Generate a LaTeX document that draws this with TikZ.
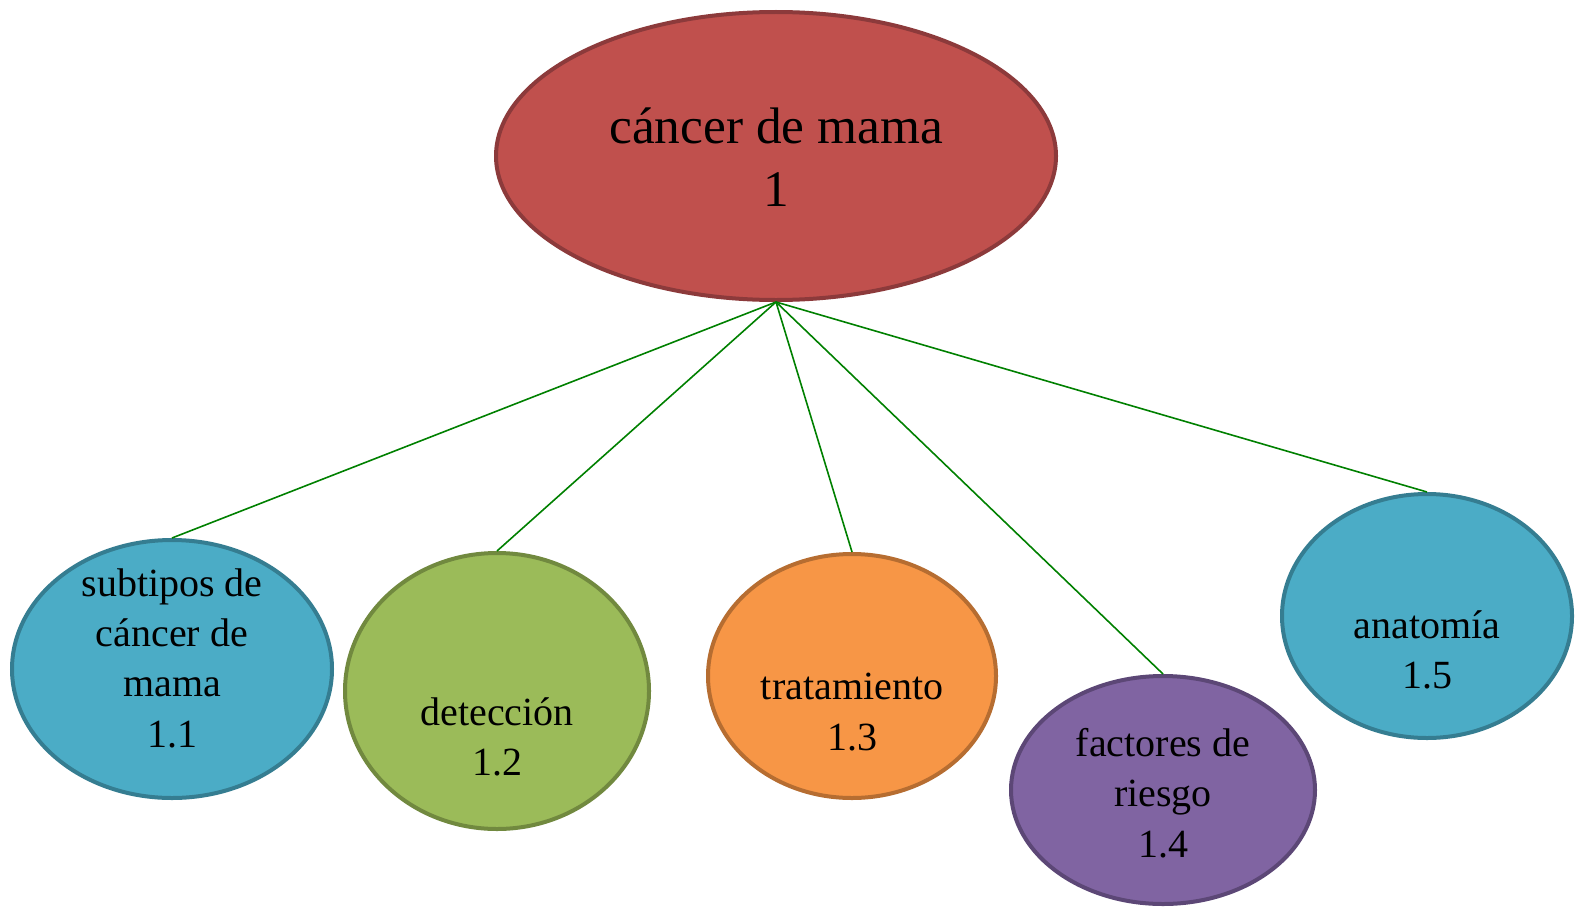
\documentclass[tikz,border=0pt]{standalone}
\usepackage{fontspec}
\setmainfont{Liberation Serif}
\usetikzlibrary{shapes.geometric}
\definecolor{redfill}{HTML}{C0504D}
\definecolor{redline}{HTML}{8C3A3B}
\definecolor{bluefill}{HTML}{4BACC6}
\definecolor{blueline}{HTML}{357D91}
\definecolor{greenfill}{HTML}{9BBB59}
\definecolor{greenline}{HTML}{71893F}
\definecolor{orangefill}{HTML}{F79646}
\definecolor{orangeline}{HTML}{B66D31}
\definecolor{purplefill}{HTML}{8064A2}
\definecolor{purpleline}{HTML}{5C4776}
\definecolor{conn}{HTML}{008000}
\tikzset{
  bubble/.style={ellipse, inner sep=0pt, line width=3pt},
  childtext/.style={align=center, font=\fontsize{30}{37.7}\selectfont, inner sep=0pt},
  link/.style={draw=conn, line width=1.2pt}
}
\begin{document}
\begin{tikzpicture}[x=0.75pt,y=-0.75pt]
\useasboundingbox (0,0) rectangle (1576,906);
% ellipses
\node[bubble, fill=redfill, draw=redline, minimum width=420pt, minimum height=216pt] (main) at (776,156) {};
\node[bubble, fill=bluefill, draw=blueline, minimum width=240pt, minimum height=193.5pt] (c1) at (172,669) {};
\node[bubble, fill=greenfill, draw=greenline, minimum width=228pt, minimum height=207pt] (c2) at (497,691) {};
\node[bubble, fill=orangefill, draw=orangeline, minimum width=216pt, minimum height=183pt] (c3) at (852,676) {};
\node[bubble, fill=purplefill, draw=purpleline, minimum width=228pt, minimum height=171pt] (c4) at (1163,790) {};
\node[bubble, fill=bluefill, draw=blueline, minimum width=217.5pt, minimum height=183pt] (c5) at (1427,616) {};
% connectors
\draw[link] (main.south) -- (c1.north);
\draw[link] (main.south) -- (c2.north);
\draw[link] (main.south) -- (c3.north);
\draw[link] (main.south) -- (c4.north);
\draw[link] (main.south) -- (c5.north);
% texts
\node[align=center, font=\fontsize{38.5}{47.5}\selectfont, inner sep=0pt] (t0) at (776,157) {cáncer de mama\\1};
\node[childtext] (t1) at (172,658) {subtipos de\\cáncer de\\mama\\1.1};
\node[childtext] (t2) at (497,737) {detección\\1.2};
\node[childtext] (t3) at (852,712) {tratamiento\\1.3};
\node[childtext] (t4) at (1163,793) {factores de\\riesgo\\1.4};
\node[childtext] (t5) at (1427,650) {anatomía\\1.5};
\end{tikzpicture}
\end{document}
